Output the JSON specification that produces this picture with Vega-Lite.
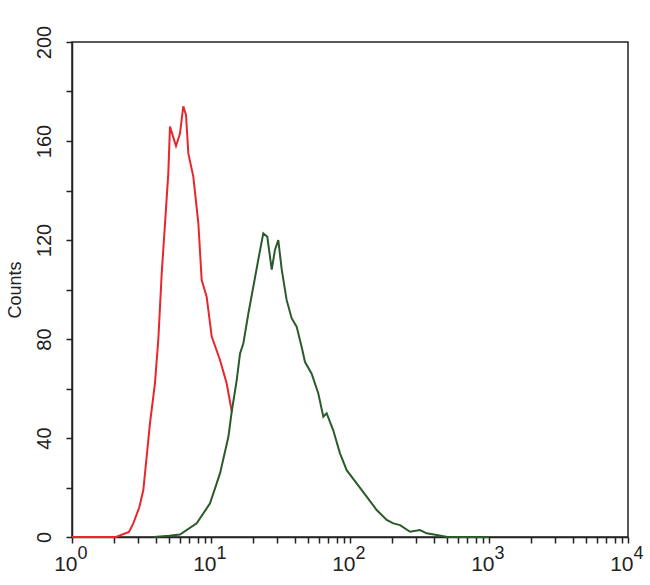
{
  "$schema": "https://vega.github.io/schema/vega-lite/v6.json",
  "autosize": "none",
  "width": 556,
  "height": 495,
  "padding": {"left": 72, "top": 42, "right": 22, "bottom": 48},
  "background": "white",
  "config": {
    "view": {"stroke": "#222", "strokeWidth": 1.5},
    "font": "Liberation Sans",
    "axis": {"domainColor": "#222", "tickColor": "#222", "labelColor": "#222", "titleColor": "#222", "grid": false, "domainWidth": 1.5, "tickWidth": 1.5}
  },
  "data": {
    "values": [
      {"s": "control", "fl": 1, "c": 0},
      {"s": "control", "fl": 2.07, "c": 0},
      {"s": "control", "fl": 2.57, "c": 2},
      {"s": "control", "fl": 2.76, "c": 5.5},
      {"s": "control", "fl": 3.05, "c": 12},
      {"s": "control", "fl": 3.26, "c": 19},
      {"s": "control", "fl": 3.64, "c": 46},
      {"s": "control", "fl": 3.95, "c": 62},
      {"s": "control", "fl": 4.18, "c": 80},
      {"s": "control", "fl": 4.42, "c": 106.5},
      {"s": "control", "fl": 4.67, "c": 126.7},
      {"s": "control", "fl": 4.93, "c": 147},
      {"s": "control", "fl": 5.07, "c": 165.8},
      {"s": "control", "fl": 5.6, "c": 158},
      {"s": "control", "fl": 5.98, "c": 163},
      {"s": "control", "fl": 6.32, "c": 174},
      {"s": "control", "fl": 6.61, "c": 170.5},
      {"s": "control", "fl": 6.87, "c": 155},
      {"s": "control", "fl": 7.46, "c": 145.6},
      {"s": "control", "fl": 8.11, "c": 126.7},
      {"s": "control", "fl": 8.57, "c": 103.8},
      {"s": "control", "fl": 9.31, "c": 97},
      {"s": "control", "fl": 10.12, "c": 81},
      {"s": "control", "fl": 11.61, "c": 71.5},
      {"s": "control", "fl": 12.97, "c": 62},
      {"s": "control", "fl": 14.13, "c": 50.5},
      {"s": "sample", "fl": 3.89, "c": 0},
      {"s": "sample", "fl": 5.01, "c": 0.5},
      {"s": "sample", "fl": 5.98, "c": 1},
      {"s": "sample", "fl": 7.89, "c": 5.5},
      {"s": "sample", "fl": 9.84, "c": 13.6},
      {"s": "sample", "fl": 11.61, "c": 25.7},
      {"s": "sample", "fl": 13.34, "c": 40.5},
      {"s": "sample", "fl": 14.09, "c": 50.6},
      {"s": "sample", "fl": 15.31, "c": 63.4},
      {"s": "sample", "fl": 16.18, "c": 74.2},
      {"s": "sample", "fl": 17.1, "c": 78.3},
      {"s": "sample", "fl": 18.58, "c": 90.4},
      {"s": "sample", "fl": 20.14, "c": 101},
      {"s": "sample", "fl": 21.88, "c": 112},
      {"s": "sample", "fl": 23.77, "c": 122.7},
      {"s": "sample", "fl": 25.41, "c": 121.3},
      {"s": "sample", "fl": 27.35, "c": 108},
      {"s": "sample", "fl": 28.84, "c": 116},
      {"s": "sample", "fl": 30.48, "c": 120},
      {"s": "sample", "fl": 32.28, "c": 108},
      {"s": "sample", "fl": 34.99, "c": 95.8},
      {"s": "sample", "fl": 38.02, "c": 88.4},
      {"s": "sample", "fl": 41.3, "c": 85},
      {"s": "sample", "fl": 44.87, "c": 76.9},
      {"s": "sample", "fl": 47.42, "c": 70.8},
      {"s": "sample", "fl": 52.97, "c": 66},
      {"s": "sample", "fl": 59.16, "c": 58},
      {"s": "sample", "fl": 64.27, "c": 48.6},
      {"s": "sample", "fl": 67.92, "c": 50},
      {"s": "sample", "fl": 75.86, "c": 43},
      {"s": "sample", "fl": 84.72, "c": 33.8},
      {"s": "sample", "fl": 94.62, "c": 27},
      {"s": "sample", "fl": 111.7, "c": 21.7},
      {"s": "sample", "fl": 131.8, "c": 16.3},
      {"s": "sample", "fl": 155.6, "c": 10.9},
      {"s": "sample", "fl": 183.7, "c": 6.9},
      {"s": "sample", "fl": 205.1, "c": 5.5},
      {"s": "sample", "fl": 229.1, "c": 4.8},
      {"s": "sample", "fl": 270.4, "c": 2.1},
      {"s": "sample", "fl": 318.4, "c": 2.8},
      {"s": "sample", "fl": 356.5, "c": 1.5},
      {"s": "sample", "fl": 420.7, "c": 0.8},
      {"s": "sample", "fl": 501.2, "c": 0},
      {"s": "sample", "fl": 1000, "c": 0}
    ]
  },
  "resolve": {"axis": {"x": "independent"}},
  "layer": [
    {
      "mark": {"type": "line", "strokeWidth": 2, "interpolate": "linear"},
      "encoding": {
        "x": {
          "field": "fl", "type": "quantitative",
          "scale": {"type": "log", "domain": [1, 10000], "nice": false},
          "axis": {
            "orient": "bottom",
            "title": null,
            "values": [1,2,3,4,5,6,7,8,9,10,20,30,40,50,60,70,80,90,100,200,300,400,500,600,700,800,900,1000,2000,3000,4000,5000,6000,7000,8000,9000,10000],
            "labelExpr": "indexof([1,10,100,1000,10000], datum.value) >= 0 ? '10' : ''",
            "labelFontSize": 21,
            "labelPadding": 10,
            "labelAlign": "right",
            "labelOffset": 5,
            "labelFlush": false,
            "labelOverlap": false,
            "tickSize": 6
          }
        },
        "y": {
          "field": "c", "type": "quantitative",
          "scale": {"domain": [0, 200], "nice": false},
          "axis": {
            "title": "Counts",
            "titleFontSize": 18,
            "titleFontWeight": "normal",
            "titlePadding": 10,
            "values": [0,10,20,30,40,50,60,70,80,90,100,110,120,130,140,150,160,170,180,190,200],
            "labelExpr": "datum.value % 40 == 0 ? datum.label : ''",
            "labelAngle": -90,
            "labelAlign": "center",
            "labelBaseline": "bottom",
            "labelFontSize": 20,
            "labelPadding": 12,
            "labelOverlap": false,
            "labelFlush": false,
            "tickSize": 6
          }
        },
        "color": {
          "field": "s", "type": "nominal",
          "scale": {"domain": ["control", "sample"], "range": ["#e8262c", "#2b5a2b"]},
          "legend": null
        }
      }
    },
    {
      "transform": [{"filter": "datum.c < 0"}],
      "mark": {"type": "line", "strokeWidth": 2},
      "encoding": {
        "x": {
          "field": "fl", "type": "quantitative",
          "scale": {"type": "log", "domain": [1, 10000], "nice": false},
          "axis": {
            "orient": "bottom",
            "title": null,
            "values": [1,10,100,1000,10000],
            "labelExpr": "datum.value == 1 ? '0' : datum.value == 10 ? '1' : datum.value == 100 ? '2' : datum.value == 1000 ? '3' : '4'",
            "labelFontSize": 18,
            "labelPadding": 7,
            "labelAlign": "left",
            "labelOffset": 5,
            "labelFlush": false,
            "labelOverlap": false,
            "domain": false,
            "ticks": false
          }
        },
        "y": {"field": "c", "type": "quantitative"},
        "color": {"field": "s", "type": "nominal", "legend": null}
      }
    }
  ]
}
